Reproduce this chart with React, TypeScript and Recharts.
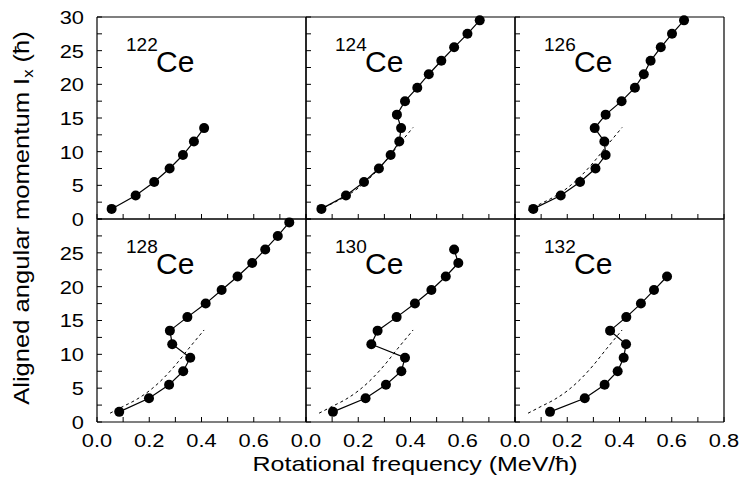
import { LineChart, Line, XAxis, YAxis } from 'recharts';

// rotational frequency (MeV/hbar) and aligned angular momentum Ix (hbar)
const ce122W = [0.056, 0.148, 0.219, 0.278, 0.329, 0.371, 0.41];
const ce122I = [1.5, 3.5, 5.5, 7.5, 9.5, 11.5, 13.5];

const ce124W = [0.059, 0.153, 0.222, 0.279, 0.324, 0.357, 0.364, 0.348, 0.379, 0.426, 0.47, 0.518, 0.567, 0.618, 0.665];
const ce124I = [1.5, 3.5, 5.5, 7.5, 9.5, 11.5, 13.5, 15.5, 17.5, 19.5, 21.5, 23.5, 25.5, 27.5, 29.5];

const ce126W = [0.07, 0.175, 0.249, 0.308, 0.347, 0.342, 0.305, 0.347, 0.408, 0.459, 0.493, 0.519, 0.558, 0.601, 0.647];
const ce126I = [1.5, 3.5, 5.5, 7.5, 9.5, 11.5, 13.5, 15.5, 17.5, 19.5, 21.5, 23.5, 25.5, 27.5, 29.5];

const ce128W = [0.085, 0.199, 0.276, 0.33, 0.357, 0.288, 0.279, 0.346, 0.416, 0.477, 0.538, 0.594, 0.644, 0.692, 0.736];
const ce128I = [1.5, 3.5, 5.5, 7.5, 9.5, 11.5, 13.5, 15.5, 17.5, 19.5, 21.5, 23.5, 25.5, 27.5, 29.5];

const ce130W = [0.103, 0.228, 0.306, 0.365, 0.379, 0.25, 0.274, 0.347, 0.417, 0.48, 0.535, 0.583, 0.567];
const ce130I = [1.5, 3.5, 5.5, 7.5, 9.5, 11.5, 13.5, 15.5, 17.5, 19.5, 21.5, 23.5, 25.5];

const ce132W = [0.134, 0.267, 0.343, 0.393, 0.416, 0.425, 0.364, 0.426, 0.482, 0.532, 0.582];
const ce132I = [1.5, 3.5, 5.5, 7.5, 9.5, 11.5, 13.5, 15.5, 17.5, 19.5, 21.5];

// dashed reference curve
const refW = [0.05, 0.1, 0.15, 0.2, 0.25, 0.3, 0.35, 0.41];
const refI = [1.3, 2.3, 3.3, 4.6, 6.3, 8.4, 10.8, 13.6];

const xTicks = [0, 0.1, 0.2, 0.3, 0.4, 0.5, 0.6, 0.7, 0.8];
const yTicks = [0, 2.5, 5, 7.5, 10, 12.5, 15, 17.5, 20, 22.5, 25, 27.5, 30];

const toPts = (w: number[], ix: number[]) => w.map((v, i) => ({ w: v, ix: ix[i] }));

const FONT = '"Liberation Sans", Arial, sans-serif';
const colLeft = [97, 306, 515];
const rowTop = [17, 219];
const rowH = [202, 203];
const PW = 209;
const AXW = 95;
const RM = 16;

const panels = [
  { mass: '122', w: ce122W, ix: ce122I, ref: false, col: 0, row: 0 },
  { mass: '124', w: ce124W, ix: ce124I, ref: true, col: 1, row: 0 },
  { mass: '126', w: ce126W, ix: ce126I, ref: true, col: 2, row: 0 },
  { mass: '128', w: ce128W, ix: ce128I, ref: true, col: 0, row: 1 },
  { mass: '130', w: ce130W, ix: ce130I, ref: true, col: 1, row: 1 },
  { mass: '132', w: ce132W, ix: ce132I, ref: true, col: 2, row: 1 },
];

const makeXTick = (show: boolean, showLast: boolean) => (props: any) => {
  const { x, y, payload } = props;
  const k = Math.round(payload.value * 10);
  if (!show || k % 2 !== 0 || (k === 8 && !showLast)) return <g />;
  return (
    <text x={x} y={y + 25} textAnchor="middle" fontSize={19} fontFamily={FONT} fill="#000"
      transform={`translate(${x} 0) scale(1.15 1) translate(${-x} 0)`}>
      {payload.value.toFixed(1)}
    </text>
  );
};

const makeYTick = (show: boolean, showTop: boolean) => (props: any) => {
  const { x, y, payload } = props;
  const v = payload.value;
  if (!show || v % 5 !== 0 || (v === 30 && !showTop)) return <g />;
  const tx = x - 13;
  return (
    <text x={tx} y={y + 7} textAnchor="end" fontSize={19} fontFamily={FONT} fill="#000"
      transform={`translate(${tx} 0) scale(1.15 1) translate(${-tx} 0)`}>
      {v}
    </text>
  );
};

function Panel({ p }: { p: (typeof panels)[number] }) {
  const ph = rowH[p.row];
  const left = colLeft[p.col] - AXW;
  const top = rowTop[p.row] - 11;
  const axisProps = {
    stroke: '#000',
    axisLine: { stroke: '#000', strokeWidth: 1.2 },
    tickLine: { stroke: '#000', strokeWidth: 1 },
    tickSize: -5,
    tickMargin: 5,
    interval: 0 as const,
  };
  return (
    <div style={{ position: 'absolute', left, top }}>
      <LineChart width={AXW + PW + 1 + RM} height={11 + ph + 50} margin={{ top: 10, right: RM, bottom: 0, left: 0 }}>
        <XAxis type="number" dataKey="w" domain={[0, 0.8]} ticks={xTicks} height={50}
          tick={makeXTick(p.row === 1, p.col === 2)} {...axisProps} />
        <XAxis xAxisId="top" orientation="top" type="number" dataKey="w" domain={[0, 0.8]} ticks={xTicks}
          height={1} tick={false} {...axisProps} />
        <YAxis type="number" dataKey="ix" domain={[0, 30]} ticks={yTicks} width={AXW}
          tick={makeYTick(p.col === 0, p.row === 0)} {...axisProps} />
        <YAxis yAxisId="right" orientation="right" type="number" dataKey="ix" domain={[0, 30]} ticks={yTicks}
          width={1} tick={false} {...axisProps} />
        {p.ref && (
          <Line data={toPts(refW, refI)} dataKey="ix" type="monotone" stroke="#000" strokeWidth={1}
            strokeDasharray="3 3" dot={false} activeDot={false} isAnimationActive={false} />
        )}
        <Line data={toPts(p.w, p.ix)} dataKey="ix" type="linear" stroke="#000" strokeWidth={1.2}
          dot={{ r: 5, fill: '#000', stroke: '#000', strokeWidth: 0 }} activeDot={false}
          isAnimationActive={false} />
      </LineChart>
    </div>
  );
}

export default function App() {
  return (
    <div style={{ position: 'absolute', left: 0, top: 0, width: 740, height: 480, background: '#fff', fontFamily: FONT }}>
      {panels.map((p) => (
        <Panel key={p.mass} p={p} />
      ))}
      <svg width={740} height={480} style={{ position: 'absolute', left: 0, top: 0, pointerEvents: 'none' }}>
        {panels.map((p) => {
          const x0 = colLeft[p.col];
          const y0 = rowTop[p.row];
          return (
            <g key={p.mass} fontFamily={FONT} fill="#000">
              <text x={x0 + 29} y={y0 + 34} fontSize={19}>{p.mass}</text>
              <text x={x0 + 59} y={y0 + 55} fontSize={30}>Ce</text>
            </g>
          );
        })}
        <text transform="translate(29 218) rotate(-90) scale(1.19 1)" textAnchor="middle" fontSize={21.5}
          fontFamily={FONT} fill="#000">
          Aligned angular momentum I<tspan fontSize={14} dy={4}>x</tspan><tspan dy={-4}> (ħ)</tspan>
        </text>
        <text transform="translate(415 471) scale(1.19 1)" textAnchor="middle" fontSize={21}
          fontFamily={FONT} fill="#000">
          Rotational frequency (MeV/ħ)
        </text>
      </svg>
    </div>
  );
}
